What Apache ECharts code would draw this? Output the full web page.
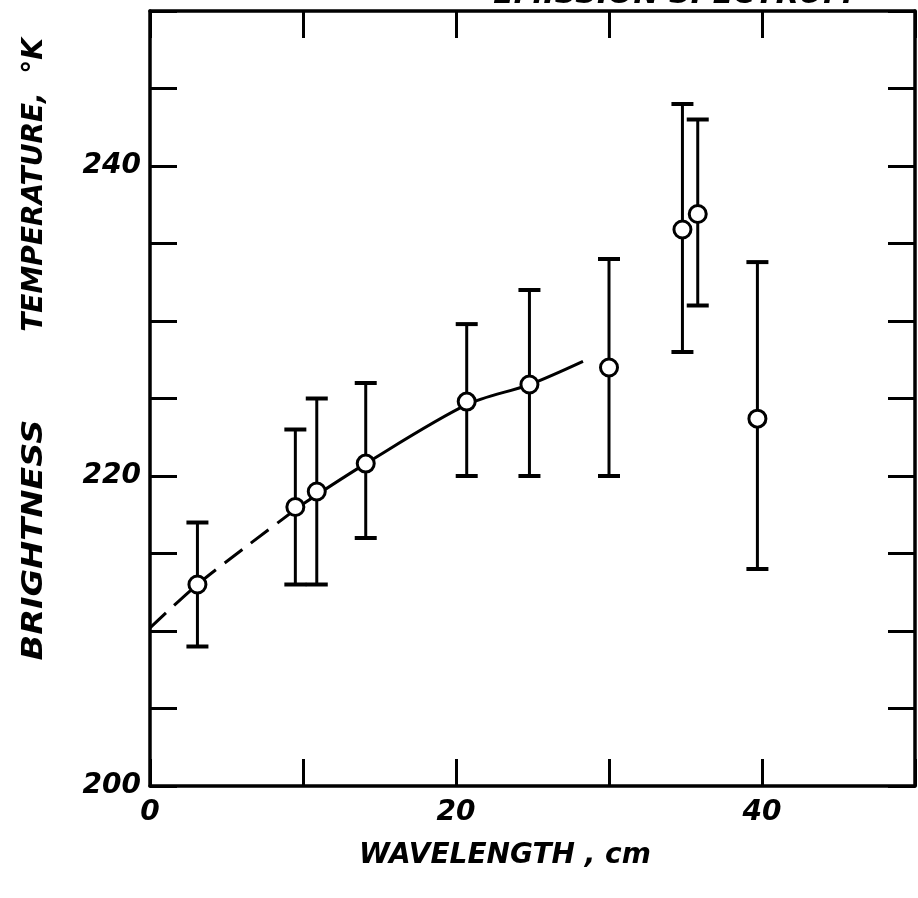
<!DOCTYPE html>
<html>
<head>
<meta charset="utf-8">
<script src="https://cdn.jsdelivr.net/npm/echarts@6/dist/echarts.min.js"></script>
<style>
html,body{margin:0;padding:0;background:#fff;}
#chart{width:918px;height:898px;}
</style>
</head>
<body>
<div id="chart"></div>
<script>
// ---- data ----
const wavelength  = [3.1, 9.5, 10.9, 14.1, 20.7, 24.8, 30.0, 34.8, 35.8, 39.7];
const temperature = [213.0, 218.0, 219.0, 220.8, 224.8, 225.9, 227.0, 235.9, 236.9, 223.7];
const errLow      = [209.0, 213.0, 213.0, 216.0, 220.0, 220.0, 220.0, 228.0, 231.0, 214.0];
const errHigh     = [217.0, 223.0, 225.0, 226.0, 229.8, 232.0, 234.0, 244.0, 243.0, 233.8];
const curveDashedX = [0, 3.1, 6.5, 10];
const curveDashedY = [210.2, 213.0, 215.6, 218.2];
const curveSolidX  = [10, 14.1, 20.7, 24.8, 28.3];
const curveSolidY  = [218.2, 220.8, 224.6, 225.9, 227.4];
const xTickLabels = [0, 20, 40];
const yTickLabels = [200, 220, 240];
const titleText = 'EMISSION SPECTRUM';
const xName = 'WAVELENGTH , cm';
const yNameParts = ['BRIGHTNESS', 'TEMPERATURE,', '°K'];

const FONT = '"DejaVu Sans", "Liberation Sans", sans-serif';
const chart = echarts.init(document.getElementById('chart'), null, {renderer: 'canvas'});

const axisLineStyle = {color: '#000', width: 3.5};
const tickStyle = {show: true, inside: true, length: 27, lineStyle: {color: '#000', width: 3}};
const labelStyle = {color: '#000', fontFamily: FONT, fontSize: 28, fontWeight: 'bold', fontStyle: 'italic'};

function xAxisCfg(pos, showLabel) {
  return {
    type: 'value', min: 0, max: 50, interval: 10, position: pos,
    axisLine: {show: true, onZero: false, lineStyle: axisLineStyle},
    axisTick: tickStyle,
    splitLine: {show: false},
    axisLabel: showLabel ? Object.assign({
      margin: 13,
      formatter: v => xTickLabels.indexOf(v) >= 0 ? String(v) : ''
    }, labelStyle) : {show: false}
  };
}
function yAxisCfg(pos, showLabel) {
  return {
    type: 'value', min: 200, max: 250, interval: 5, position: pos,
    axisLine: {show: true, onZero: false, lineStyle: axisLineStyle},
    axisTick: tickStyle,
    splitLine: {show: false},
    axisLabel: showLabel ? Object.assign({
      margin: 9,
      formatter: v => yTickLabels.indexOf(v) >= 0 ? String(v) : ''
    }, labelStyle) : {show: false}
  };
}

const textFont = 'italic bold 28px ' + FONT;

const option = {
  backgroundColor: '#fff',
  animation: false,
  grid: {left: 150, right: 3, top: 11, bottom: 112},
  xAxis: [xAxisCfg('bottom', true), xAxisCfg('top', false)],
  yAxis: [yAxisCfg('left', true), yAxisCfg('right', false)],
  graphic: [
    {type: 'text', x: 853, y: -5, silent: true,
     style: {text: titleText, font: 'italic bold 30px ' + FONT, fill: '#000', align: 'right', verticalAlign: 'middle'}},
    {type: 'text', x: 505, y: 856, silent: true,
     style: {text: xName, font: textFont, fill: '#000', align: 'center', verticalAlign: 'middle'}},
    {type: 'text', x: 35, y: 540, rotation: Math.PI / 2, scaleX: 1.2, silent: true,
     style: {text: yNameParts[0], font: textFont, fill: '#000', align: 'center', verticalAlign: 'middle'}},
    {type: 'text', x: 35, y: 212, rotation: Math.PI / 2, silent: true,
     style: {text: yNameParts[1], font: textFont, fill: '#000', align: 'center', verticalAlign: 'middle'}},
    {type: 'text', x: 35, y: 56, rotation: Math.PI / 2, silent: true,
     style: {text: yNameParts[2], font: textFont, fill: '#000', align: 'center', verticalAlign: 'middle'}}
  ],
  series: [
    {
      type: 'line', xAxisIndex: 0, yAxisIndex: 0,
      data: curveDashedX.map((x, i) => [x, curveDashedY[i]]),
      smooth: 0.3, showSymbol: false, silent: true, z: 1,
      lineStyle: {color: '#000', width: 3, type: [22, 11]}
    },
    {
      type: 'line', xAxisIndex: 0, yAxisIndex: 0,
      data: curveSolidX.map((x, i) => [x, curveSolidY[i]]),
      smooth: 0.3, showSymbol: false, silent: true, z: 1,
      lineStyle: {color: '#000', width: 3}
    },
    {
      type: 'custom', xAxisIndex: 0, yAxisIndex: 0, z: 2, silent: true,
      data: wavelength.map((w, i) => [w, errLow[i], errHigh[i]]),
      renderItem: function (params, api) {
        const x = api.value(0);
        const lo = api.coord([x, api.value(1)]);
        const hi = api.coord([x, api.value(2)]);
        const cw = 11;
        const st = {stroke: '#000', lineWidth: 3};
        const cst = {stroke: '#000', lineWidth: 4};
        return {
          type: 'group',
          children: [
            {type: 'line', shape: {x1: lo[0], y1: lo[1], x2: hi[0], y2: hi[1]}, style: st},
            {type: 'line', shape: {x1: lo[0] - cw, y1: lo[1], x2: lo[0] + cw, y2: lo[1]}, style: cst},
            {type: 'line', shape: {x1: hi[0] - cw, y1: hi[1], x2: hi[0] + cw, y2: hi[1]}, style: cst}
          ]
        };
      }
    },
    {
      type: 'scatter', xAxisIndex: 0, yAxisIndex: 0, z: 5, silent: true,
      data: wavelength.map((w, i) => [w, temperature[i]]),
      symbol: 'circle', symbolSize: 17,
      itemStyle: {color: '#fff', borderColor: '#000', borderWidth: 3, opacity: 1}
    }
  ]
};
chart.setOption(option);
</script>
</body>
</html>
